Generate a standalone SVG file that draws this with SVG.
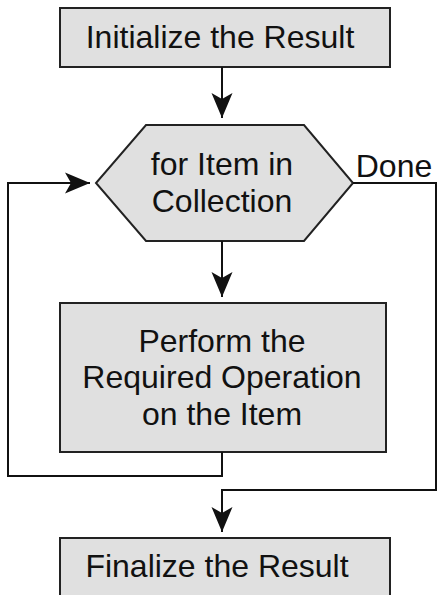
<svg xmlns="http://www.w3.org/2000/svg" width="437" height="595" viewBox="0 0 437 595">
<defs>
<marker id="ah" markerWidth="26" markerHeight="22" viewBox="0 0 26 22" refX="25" refY="11" orient="auto" markerUnits="userSpaceOnUse">
<path d="M0,0.5 L25,11 L0,21.5 L6,11 Z" fill="#111"/>
</marker>
</defs>
<style>
.box{fill:#e0e0e0;stroke:#222;stroke-width:2}
.t{font-family:"Liberation Sans",Arial,sans-serif;font-size:32px;fill:#111;text-anchor:middle}
.c{fill:none;stroke:#111;stroke-width:2}
</style>
<rect width="437" height="595" fill="#fff"/>
<g id="init">
<rect class="box" x="60" y="8" width="330" height="59"/>
<text class="t" x="220" y="48">Initialize the Result</text>
</g>
<g id="loop">
<polygon class="box" points="146,125 304,125 353,183 304,241 146,241 96,183"/>
<text class="t" x="222" y="175">for Item in</text>
<text class="t" x="222" y="212">Collection</text>
</g>
<g id="process">
<rect class="box" x="60" y="303" width="326" height="149"/>
<text class="t" x="222" y="352">Perform the</text>
<text class="t" x="222" y="388">Required Operation</text>
<text class="t" x="222" y="425">on the Item</text>
</g>
<g id="final">
<rect class="box" x="60" y="538" width="330" height="62"/>
<text class="t" x="217" y="577">Finalize the Result</text>
</g>
<g id="connectors">
<line class="c" x1="222" y1="67" x2="222" y2="118" marker-end="url(#ah)"/>
<line class="c" x1="222" y1="241" x2="222" y2="297" marker-end="url(#ah)"/>
<polyline class="c" points="222,452 222,476 8,476 8,183 90,183" marker-end="url(#ah)"/>
<polyline class="c" points="353,183 436,183 436,490 222,490 222,532" marker-end="url(#ah)"/>
<text class="t" x="394" y="177">Done</text>
</g>
</svg>
